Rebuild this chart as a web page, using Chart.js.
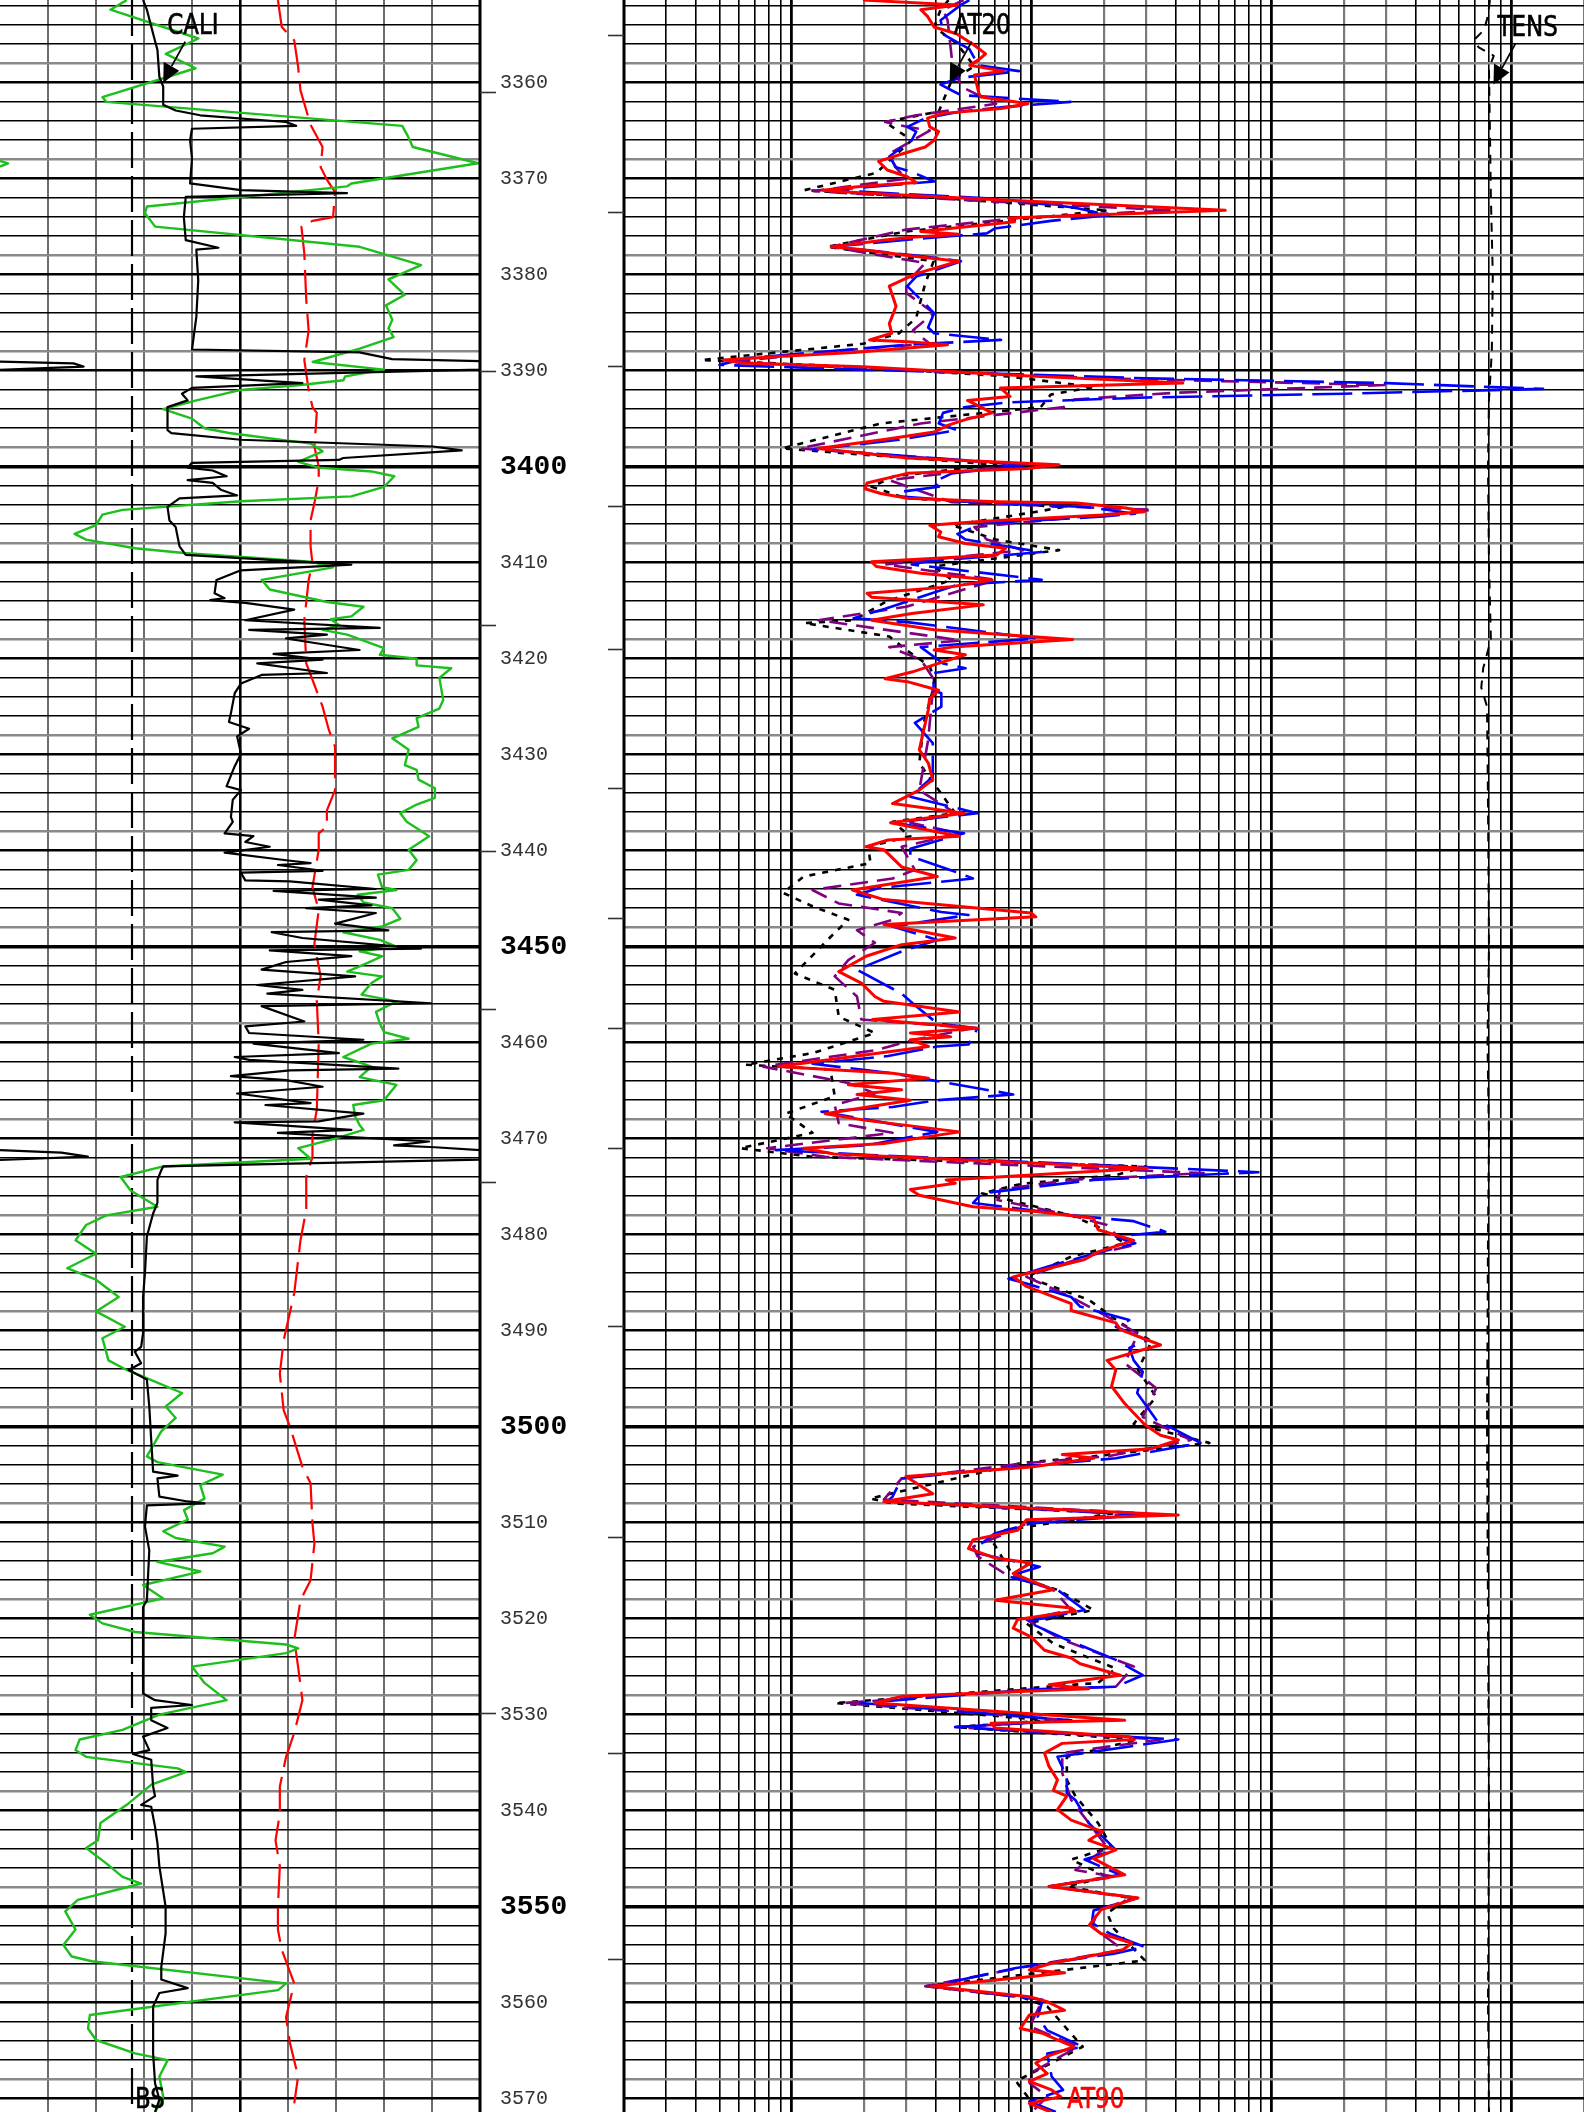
<!DOCTYPE html>
<html><head><meta charset="utf-8">
<script src="https://cdn.jsdelivr.net/npm/chart.js@4/dist/chart.umd.min.js"></script>
<style>
html,body{margin:0;padding:0;background:#fff;}
#wrap{position:relative;width:1584px;height:2112px;overflow:hidden;background:#fff;}
#right{position:absolute;left:624px;top:0;}
#left{position:absolute;left:0;top:0;}
</style></head><body>
<div id="wrap"><canvas id="right" width="960" height="2112"></canvas><canvas id="left" width="626" height="2112"></canvas></div>
<script>
// ---------------- axis ranges & tick lists ----------------
const DEPTH_TOP = 3351.39, DEPTH_BOTTOM = 3571.4;
const depthLabels = [3360,3370,3380,3390,3400,3410,3420,3430,3440,3450,3460,3470,3480,3490,3500,3510,3520,3530,3540,3550,3560,3570];
const depthGridTicks = []; for (let d = 3352; d <= 3570; d += 2) depthGridTicks.push(d);
const leftGridDivs = [1,2,3,4,5,6,7,8,9];
const resGridTicks = []; [0.1,1,10,100,1000].forEach(dec => { for (let m = 1; m <= 9; m++) { const v = +(dec*m).toPrecision(3); if (v >= 0.2 && v <= 2000) resGridTicks.push(v); } });
const leftTimeTicks = [3361.0,3390.0,3416.5,3440.0,3456.5,3474.5,3529.8];
const rightTimeTicks = [3355.0,3373.5,3389.5,3404.1,3419.0,3433.5,3447.0,3458.5,3471.0,3489.5,3511.5,3534.0,3555.5];
const BS_VALUE = 8.75;

// ---------------- curves: [depth m, value] ----------------
const GR = [[3351.4,39.6],[3352.4,34.5],[3355.4,62.0],[3357.0,51.8],[3358.5,61.1],[3361.5,32.0],[3362.0,33.2],[3364.5,125.7],[3365.6,127.5],[3366.7,129.0],[3368.4,149.4],[3370.5,109.8],[3370.8,108.5],[3372.9,45.9],[3373.6,45.3],[3375.0,48.5],[3377.1,112.4],[3379.0,131.6],[3380.5,121.4],[3382.1,126.5],[3383.2,120.6],[3384.7,122.6],[3385.6,121.4],[3386.5,123.0],[3387.7,112.4],[3389.1,97.7],[3389.9,120.0],[3390.6,107.9],[3391.0,107.3],[3391.5,93.9],[3392.0,75.3],[3393.1,61.4],[3394.0,51.0],[3395.0,60.0],[3396.0,63.9],[3396.5,71.6],[3397.6,97.1],[3398.4,100.8],[3399.5,93.2],[3400.1,99.6],[3400.5,116.1],[3401.0,123.2],[3402.1,120.0],[3403.1,109.8],[3403.6,75.3],[3404.5,38.3],[3405.0,32.0],[3406.1,30.0],[3407.0,23.3],[3407.6,26.9],[3408.5,42.2],[3409.0,57.5],[3409.9,97.1],[3410.5,104.1],[3411.8,81.8],[3412.8,84.3],[3414.1,102.2],[3414.6,113.6],[3415.6,109.8],[3415.9,103.4],[3416.5,105.9],[3417.0,100.8],[3417.5,108.5],[3418.9,120.0],[3419.6,118.7],[3420.0,130.2],[3420.7,130.2],[3421.0,141.0],[3422.0,137.3],[3424.3,138.5],[3425.2,137.3],[3426.2,130.2],[3427.1,130.8],[3428.3,122.6],[3429.5,127.7],[3431.1,126.5],[3431.6,130.2],[3432.6,130.8],[3433.5,135.9],[3434.5,135.9],[3435.2,130.2],[3436.1,125.1],[3437.0,127.1],[3438.5,134.1],[3439.9,127.7],[3441.0,130.2],[3442.0,127.7],[3442.5,118.1],[3443.8,119.4],[3444.1,123.9],[3444.6,111.8],[3445.4,113.6],[3446.0,122.6],[3447.1,125.1],[3447.9,119.4],[3448.5,107.3],[3449.3,118.7],[3450.0,123.9],[3450.5,112.4],[3451.0,119.4],[3451.7,114.9],[3452.6,108.5],[3453.1,119.4],[3453.8,116.1],[3455.0,113.0],[3455.7,123.9],[3456.8,117.5],[3458.0,118.7],[3458.9,120.0],[3459.6,127.7],[3460.1,116.1],[3461.5,107.3],[3462.5,116.1],[3463.6,112.4],[3464.4,123.9],[3466.0,120.0],[3466.5,110.4],[3467.7,111.0],[3468.6,112.4],[3469.1,113.6],[3470.0,104.7],[3471.0,93.2],[3472.1,97.1],[3472.9,51.0],[3474.0,37.7],[3475.4,40.8],[3477.1,49.2],[3478.0,33.2],[3479.0,26.9],[3480.6,23.6],[3482.0,30.0],[3483.5,21.0],[3484.7,30.0],[3486.5,37.1],[3488.0,30.0],[3489.6,39.0],[3490.8,32.0],[3493.1,33.9],[3494.1,39.6],[3494.8,44.7],[3496.5,56.9],[3497.9,51.8],[3499.1,54.9],[3500.5,50.4],[3503.1,45.9],[3503.7,49.2],[3505.0,69.6],[3506.1,62.6],[3507.5,63.9],[3508.7,57.5],[3509.7,58.7],[3510.9,51.0],[3511.6,54.9],[3512.5,70.2],[3513.2,66.5],[3514.1,49.2],[3515.1,62.6],[3516.5,44.7],[3517.9,51.0],[3519.6,28.1],[3520.5,32.0],[3521.4,42.2],[3522.7,89.4],[3523.1,93.2],[3523.6,89.4],[3525.0,60.0],[3526.7,63.9],[3528.5,70.8],[3530.0,49.8],[3531.6,38.3],[3532.6,24.9],[3533.7,23.6],[3534.4,26.9],[3535.6,55.5],[3536.0,58.1],[3537.3,47.3],[3539.4,39.6],[3541.3,31.4],[3543.1,30.6],[3543.9,26.9],[3545.5,33.2],[3546.9,38.3],[3547.6,44.1],[3549.3,24.3],[3550.5,20.4],[3552.4,23.6],[3554.0,19.8],[3555.2,22.4],[3555.7,28.7],[3558.0,89.4],[3558.7,86.9],[3561.3,28.1],[3562.7,27.5],[3563.9,30.0],[3565.3,42.2],[3566.0,52.4],[3567.7,49.8],[3569.8,51.0],[3571.4,48.5]];
const GR_WRAP = [[3368.15,0],[3368.4,2.5],[3368.75,0]];

const CALI = [[3351.4,8.98],[3352.4,9.06],[3354.9,9.19],[3356.6,9.28],[3359.4,9.32],[3360.4,9.40],[3362.3,9.40],[3362.9,9.66],[3363.4,10.17],[3364.1,11.96],[3364.5,12.17],[3364.8,10.00],[3366.0,9.96],[3367.9,10.00],[3370.5,9.96],[3371.2,11.02],[3371.5,13.23],[3371.9,9.87],[3374.0,9.83],[3376.4,9.87],[3377.2,10.55],[3377.4,10.09],[3380.6,10.13],[3384.4,10.09],[3387.8,10.00],[3388.1,13.49],[3388.8,14.17],[3389.0,16.0],[3389.9,16.0],[3390.6,10.09],[3391.3,12.30],[3391.8,10.00],[3392.4,9.79],[3393.1,9.91],[3393.8,9.49],[3396.2,9.49],[3396.5,9.57],[3397.2,11.02],[3397.9,15.02],[3398.3,15.62],[3399.1,13.15],[3399.3,13.06],[3399.6,10.00],[3400.1,9.91],[3400.4,10.43],[3401.0,10.72],[3401.4,9.91],[3401.7,10.43],[3402.4,10.60],[3403.0,10.94],[3403.3,9.74],[3404.2,9.49],[3405.6,9.53],[3406.3,9.66],[3408.3,9.74],[3409.2,9.87],[3410.2,13.32],[3410.8,11.02],[3411.8,10.51],[3413.2,10.47],[3413.7,10.68],[3413.9,10.38],[3414.2,11.11],[3414.9,12.13],[3416.0,11.11],[3416.8,13.91],[3417.0,11.19],[3417.5,12.81],[3417.9,11.96],[3419.1,13.49],[3419.5,11.70],[3420.1,12.72],[3420.5,11.36],[3421.5,12.81],[3421.7,11.45],[3422.4,11.11],[3422.6,11.02],[3423.6,10.89],[3425.7,10.81],[3426.6,10.77],[3427.3,11.19],[3428.1,10.94],[3429.9,11.02],[3431.2,10.89],[3433.3,10.72],[3433.7,11.02],[3434.7,10.85],[3436.5,10.81],[3437.0,10.85],[3438.2,10.68],[3438.5,11.28],[3439.1,11.11],[3439.6,11.62],[3440.2,10.68],[3441.0,11.96],[3441.3,12.47],[3441.5,11.79],[3442.1,12.72],[3442.3,11.02],[3443.1,11.11],[3443.2,12.04],[3444.0,13.83],[3444.2,11.70],[3444.9,13.83],[3445.1,12.64],[3445.7,13.74],[3446.0,12.38],[3446.5,13.83],[3447.6,12.98],[3448.3,14.09],[3448.5,11.66],[3449.1,12.30],[3450.2,14.77],[3450.4,11.62],[3451.0,13.32],[3451.6,11.96],[3452.4,11.45],[3453.1,13.40],[3454.0,11.36],[3454.5,12.30],[3454.9,11.57],[3455.9,14.98],[3456.2,11.45],[3457.8,12.34],[3458.3,11.11],[3459.0,11.19],[3459.7,13.57],[3460.1,11.28],[3461.1,13.06],[3461.5,10.89],[3461.8,11.19],[3462.7,14.30],[3462.9,12.04],[3463.5,10.81],[3463.9,11.96],[3464.6,12.72],[3465.3,10.94],[3466.3,12.47],[3466.5,11.53],[3467.4,13.57],[3468.2,12.64],[3468.3,10.89],[3469.1,13.32],[3469.4,11.79],[3470.3,14.94],[3470.7,14.21],[3470.9,15.06],[3471.2,16.0],[3472.2,16.0],[3472.9,9.40],[3473.3,9.36],[3474.3,9.28],[3476.7,9.28],[3477.8,9.19],[3480.2,9.06],[3484.0,9.02],[3486.5,8.98],[3490.3,8.98],[3491.7,8.94],[3492.2,8.81],[3493.4,8.94],[3494.1,8.68],[3495.1,9.06],[3497.9,9.11],[3501.4,9.15],[3504.7,9.19],[3505.1,9.70],[3505.4,9.28],[3507.3,9.32],[3507.8,9.91],[3508.0,10.26],[3508.2,9.06],[3510.4,9.02],[3512.9,9.11],[3518.1,9.06],[3518.8,8.98],[3527.8,8.98],[3528.5,9.23],[3529.0,10.00],[3529.3,9.15],[3530.6,9.15],[3531.4,9.49],[3532.3,8.98],[3533.7,9.11],[3534.1,8.77],[3534.7,9.15],[3537.5,9.19],[3538.5,9.23],[3539.4,8.94],[3539.6,9.15],[3541.7,9.23],[3543.4,9.28],[3545.8,9.32],[3550.0,9.45],[3552.8,9.45],[3556.3,9.36],[3557.6,9.36],[3558.5,9.91],[3559.0,9.32],[3560.4,9.19],[3565.3,9.19],[3568.4,9.23],[3570.1,9.32],[3571.4,9.23]];
const CALI_WRAP_A = [[3389.06,6.0],[3389.24,7.53],[3389.58,7.74],[3389.93,6.0]];
const CALI_WRAP_B = [[3471.19,6.0],[3471.46,7.28],[3471.88,7.83],[3472.23,6.0]];

const SP = [[3351.4,-22.1],[3354.2,-21.3],[3355.6,-18.7],[3358.3,-17.9],[3360.8,-17.4],[3364.4,-15.3],[3366.7,-12.8],[3368.8,-13.2],[3370.1,-11.9],[3371.4,-10.2],[3374.0,-10.6],[3374.4,-14.9],[3375.0,-17.2],[3377.8,-16.6],[3382.6,-16.2],[3385.8,-15.7],[3388.9,-16.6],[3392.0,-15.7],[3393.8,-14.9],[3394.4,-14.0],[3397.9,-14.5],[3400.0,-13.6],[3401.4,-13.6],[3403.8,-14.5],[3405.6,-15.3],[3408.3,-15.3],[3410.1,-14.9],[3411.8,-15.7],[3416.0,-16.6],[3420.5,-16.2],[3422.2,-14.9],[3425.0,-12.8],[3427.4,-11.5],[3429.2,-10.2],[3433.7,-10.2],[3435.8,-11.9],[3437.5,-11.9],[3438.2,-13.6],[3439.9,-13.6],[3443.8,-14.9],[3446.2,-13.6],[3449.7,-14.5],[3453.1,-13.2],[3455.6,-14.0],[3460.1,-13.6],[3467.0,-14.0],[3469.5,-14.9],[3471.9,-14.9],[3474.0,-16.2],[3477.4,-16.2],[3480.6,-17.4],[3486.1,-18.7],[3491.0,-20.9],[3494.5,-21.7],[3498.3,-20.9],[3500.0,-19.6],[3504.2,-17.0],[3505.9,-15.3],[3510.1,-14.9],[3512.2,-14.5],[3516.0,-15.3],[3518.1,-17.4],[3522.2,-18.7],[3525.0,-17.9],[3528.5,-17.0],[3531.9,-18.7],[3534.4,-20.4],[3537.5,-21.7],[3540.3,-21.7],[3543.1,-22.6],[3545.8,-21.7],[3550.0,-22.1],[3552.4,-22.1],[3554.5,-21.3],[3558.0,-18.7],[3561.5,-20.4],[3564.2,-19.6],[3567.7,-17.9],[3570.5,-18.7]];

const AT90 = [[3351.4,1.98],[3351.9,4.9],[3352.4,3.45],[3353.1,3.68],[3354.2,3.92],[3354.9,4.86],[3356.1,5.77],[3357.0,6.42],[3357.6,6.02],[3358.2,5.52],[3358.8,7.62],[3359.2,5.77],[3361.1,6.02],[3361.5,6.15],[3362.0,8.47],[3362.2,9.64],[3362.7,7.45],[3363.2,4.27],[3363.7,3.68],[3364.6,3.76],[3365.1,4.09],[3366.0,3.92],[3366.7,3.60],[3367.4,2.90],[3368.2,2.30],[3369.1,2.50],[3369.8,3.03],[3370.4,3.30],[3370.8,1.98],[3371.2,1.34],[3371.5,1.98],[3372.2,7.14],[3373.3,64],[3374.1,8.0],[3374.5,8.47],[3375.5,3.45],[3375.8,4.96],[3376.1,3.16],[3376.4,2.45],[3377.1,1.46],[3377.4,1.98],[3378.1,3.30],[3378.6,4.96],[3379.9,3.30],[3381.2,2.55],[3383.3,2.72],[3385.1,2.55],[3386.1,2.61],[3386.8,2.11],[3387.0,3.03],[3387.3,4.46],[3388.1,1.81],[3388.5,0.91],[3388.9,0.52],[3389.2,0.62],[3389.6,1.98],[3390.5,8.85],[3391.3,42.6],[3391.8,7.4],[3392.7,8.12],[3393.1,5.4],[3394.4,6.84],[3395.1,5.29],[3395.7,4.46],[3396.4,3.92],[3397.1,2.55],[3398.1,1.29],[3399.1,3.03],[3399.8,13.0],[3400.2,9.64],[3400.7,3.03],[3401.7,2.06],[3402.3,2.02],[3402.8,2.35],[3403.3,3.03],[3403.65,7.14],[3403.8,15.4],[3404.3,24.7],[3404.7,29.4],[3405.0,20.8],[3405.7,6.28],[3406.1,3.76],[3406.8,4.18],[3407.3,4.09],[3408.0,5.29],[3408.5,7.78],[3409.2,7.14],[3409.9,2.15],[3410.4,2.25],[3411.1,3.45],[3411.8,6.84],[3412.5,4.65],[3413.2,2.06],[3413.6,2.15],[3414.4,6.28],[3415.3,3.16],[3416.0,2.15],[3417.0,3.92],[3418.0,14.8],[3418.8,4.65],[3419.1,3.92],[3419.6,5.29],[3420.5,4.09],[3421.4,3.16],[3422.1,2.45],[3422.4,3.03],[3423.3,4.09],[3424.2,3.75],[3425.3,3.71],[3427.4,3.55],[3429.5,3.40],[3430.9,3.71],[3432.6,3.87],[3433.7,3.40],[3435.1,2.63],[3436.1,5.22],[3437.1,2.58],[3438.5,5.00],[3438.9,2.52],[3439.6,2.04],[3439.9,2.42],[3441.7,2.87],[3442.7,4.04],[3444.1,1.79],[3445.1,2.42],[3446.5,9.93],[3446.9,10.4],[3447.7,2.42],[3448.3,3.26],[3449.1,4.80],[3449.8,2.87],[3451.0,2.04],[3452.6,1.57],[3453.8,1.95],[3455.2,2.22],[3455.7,2.42],[3456.8,5.00],[3457.6,2.17],[3458.5,5.94],[3459.0,3.12],[3459.4,4.59],[3459.7,3.12],[3460.4,3.71],[3461.4,1.87],[3462.5,0.88],[3463.2,2.63],[3463.7,3.71],[3464.4,1.72],[3464.9,2.87],[3465.4,1.87],[3466.0,3.12],[3467.4,1.38],[3468.1,2.04],[3469.3,5.00],[3470.5,2.42],[3471.0,1.12],[3471.6,1.5],[3473.1,30.3],[3474.3,4.40],[3474.65,4.80],[3475.3,3.12],[3475.9,3.40],[3476.7,4.80],[3477.1,5.69],[3477.6,10.4],[3478.3,18.1],[3479.5,18.9],[3480.6,26.6],[3481.8,18.9],[3482.6,16.6],[3483.3,12.8],[3484.4,8.37],[3485.4,9.51],[3487.2,14.6],[3487.9,14.6],[3489.2,22.4],[3489.9,23.4],[3491.5,34.4],[3492.0,29.0],[3493.1,20.6],[3494.1,22.4],[3495.8,21.5],[3497.6,24.4],[3499.8,29.6],[3500.9,34.4],[3501.4,40.8],[3502.3,31.6],[3502.9,13.4],[3503.3,18.1],[3504.2,9.93],[3505.2,2.99],[3507.0,3.87],[3507.8,2.42],[3509.2,40.8],[3509.7,9.51],[3510.8,8.73],[3511.8,5.69],[3512.7,5.45],[3513.7,7.05],[3514.2,9.93],[3515.3,8.37],[3517.0,12.3],[3518.1,7.05],[3518.9,14.6],[3519.2,15.2],[3520.1,8.73],[3521.0,8.37],[3521.9,9.93],[3523.3,11.3],[3524.1,14.6],[3524.7,15.9],[3525.9,23.4],[3526.9,11.8],[3527.3,17.3],[3528.1,2.87],[3528.8,2.22],[3529.9,9.51],[3530.6,24.4],[3530.9,6.76],[3531.4,7.05],[3532.3,25.5],[3532.6,26.6],[3533.0,13.4],[3534.0,11.3],[3535.4,11.8],[3536.8,12.8],[3537.9,12.3],[3538.5,14.0],[3539.9,12.8],[3541.0,14.6],[3542.2,19.7],[3543.1,17.3],[3544.1,22.4],[3545.0,18.1],[3546.7,24.4],[3547.9,11.8],[3549.1,27.7],[3550.3,19.5],[3551.9,17.4],[3552.8,19.4],[3553.8,26.1],[3554.5,24.0],[3555.9,12.1],[3556.6,9.77],[3556.9,13.7],[3557.3,9.77],[3558.3,3.80],[3559.4,9.77],[3559.9,11.6],[3560.8,13.7],[3561.3,9.77],[3562.7,8.96],[3563.2,11.1],[3564.2,13.7],[3564.6,15.0],[3565.6,11.6],[3566.3,10.4],[3567.4,11.6],[3568.2,9.77],[3569.1,12.1],[3569.8,13.2],[3570.5,9.77],[3571.4,12.0]];

const AT60 = [[3351.4,5.5],[3351.9,5.07],[3353.5,4.17],[3355.0,4.3],[3356.5,5.5],[3358.2,6.0],[3358.8,8.85],[3359.5,5.0],[3360.2,4.17],[3361.3,5.07],[3362.0,14.5],[3362.5,8.0],[3363.0,5.07],[3363.7,3.6],[3364.6,3.03],[3365.1,3.3],[3366.0,3.16],[3367.7,2.55],[3368.8,2.72],[3369.4,3.23],[3370.3,3.92],[3371.2,1.46],[3372.1,7.14],[3373.0,15],[3373.8,21],[3374.4,12],[3375.2,7],[3375.7,6.5],[3376.2,3.6],[3377.1,1.46],[3378.0,3.3],[3378.6,5.07],[3379.5,4.0],[3380.2,3.3],[3381.2,3.03],[3382.6,3.45],[3384.0,3.92],[3385.5,3.7],[3386.1,3.92],[3386.8,7.45],[3387.3,3.03],[3387.8,1.74],[3388.7,0.65],[3389.4,0.50],[3389.9,1.98],[3390.8,30],[3391.3,300],[3391.9,1350],[3392.4,200],[3392.8,30],[3393.3,8],[3393.8,5.3],[3394.4,4.27],[3395.5,4.1],[3396.2,4.9],[3397.2,2.8],[3398.2,1.23],[3399.8,9.6],[3400.7,4.65],[3401.6,3.9],[3402.1,4.1],[3402.6,2.9],[3403.1,2.8],[3403.7,5.8],[3404.2,16.8],[3404.9,27.0],[3405.2,19.9],[3405.9,6.3],[3407.0,4.9],[3407.6,5.3],[3408.9,11.0],[3409.9,3.6],[3410.2,3.16],[3411.5,8.85],[3411.8,11.0],[3412.3,4.9],[3414.8,2.45],[3415.8,1.81],[3416.2,3.03],[3417.9,10.5],[3418.8,3.45],[3419.5,3.76],[3420.5,4.27],[3421.0,5.3],[3421.5,3.9],[3423.3,3.9],[3423.6,4.2],[3425.0,4.2],[3426.7,3.26],[3428.8,3.87],[3432.3,3.87],[3434.4,3.12],[3436.1,5.94],[3437.1,2.63],[3438.2,5.22],[3439.8,3.12],[3440.6,3.12],[3442.2,4.8],[3442.9,5.69],[3443.9,2.31],[3444.6,1.87],[3446.4,4.2],[3446.7,5.45],[3447.9,2.63],[3449.3,4.04],[3450.5,2.87],[3452.4,1.87],[3454.9,2.87],[3456.1,3.26],[3458.0,4.04],[3458.5,5.94],[3460.2,5.45],[3460.4,4.04],[3461.4,2.52],[3462.2,1.22],[3463.2,2.63],[3465.4,8.37],[3466.0,4.04],[3466.7,2.63],[3467.2,1.33],[3469.3,4.04],[3470.7,2.04],[3471.2,0.86],[3471.7,2.12],[3473.5,88],[3474.3,18.1],[3475.7,6.2],[3476.7,5.7],[3478.0,14.6],[3478.6,26.6],[3479.7,36],[3480.2,22.4],[3480.9,27],[3482.0,18.1],[3483.3,11.8],[3484.6,8.0],[3485.1,9.5],[3486.5,14.6],[3487.5,15.9],[3488.9,25.5],[3489.6,22.4],[3491.0,30.3],[3491.8,25.5],[3493.1,26.6],[3494.3,29],[3496.5,27.5],[3499.3,33],[3501.7,50.5],[3503.3,22.4],[3504.2,8.7],[3505.4,2.87],[3507.3,2.63],[3507.8,2.5],[3509.2,29],[3510.1,9.9],[3511.1,7.05],[3512.5,5.94],[3513.2,5.94],[3514.6,10.8],[3515.6,8.0],[3517.0,12.8],[3519.1,16.6],[3520.3,9.5],[3522.2,14.0],[3524.3,22.4],[3525.9,29],[3527.1,22.4],[3527.4,9.9],[3528.8,1.95],[3530.6,14.6],[3531.3,4.8],[3532.6,40.8],[3534.4,12.8],[3536.5,14.0],[3538.2,14.0],[3538.9,15.2],[3541.3,17.3],[3544.1,22.4],[3545.1,16.6],[3546.7,23.4],[3547.9,11.8],[3549.1,27.7],[3550.4,18.1],[3551.7,17.8],[3552.8,21.1],[3554.2,29.6],[3554.9,22.0],[3556.4,8.6],[3558.3,3.8],[3559.7,11.1],[3561.5,10.6],[3562.9,11.6],[3564.6,16.3],[3565.3,11.6],[3567.7,12.1],[3569.1,13.5],[3570.3,9.77],[3571.4,12.6]];

const AT20 = [[3351.4,5.2],[3352.4,4.27],[3353.5,4.46],[3357.6,4.65],[3360.4,5.07],[3362.2,7.1],[3363.4,3.3],[3364.1,2.45],[3364.6,3.03],[3365.0,3.76],[3367.4,2.55],[3368.8,2.7],[3370.0,3.0],[3371.3,1.23],[3372.2,5.0],[3373.3,38],[3374.1,8.8],[3375.3,3.0],[3377.1,1.46],[3378.8,3.6],[3380.9,3.0],[3381.9,3.0],[3384.0,3.9],[3385.8,3.2],[3387.2,3.76],[3387.7,1.98],[3389.1,0.55],[3389.7,1.8],[3390.8,20],[3391.5,295],[3392.3,40],[3393.0,15],[3393.8,13.6],[3395.5,3.45],[3398.1,1.08],[3399.8,8.85],[3401.4,2.55],[3403.7,4.65],[3404.5,32],[3406.3,5.77],[3407.6,6.5],[3408.7,9.2],[3410.2,2.45],[3411.8,7.1],[3414.6,3.0],[3416.0,1.29],[3418.1,5.07],[3418.8,2.55],[3420.1,3.45],[3422.2,3.92],[3423.3,3.87],[3428.5,3.7],[3433.7,3.4],[3436.1,4.8],[3437.1,3.12],[3438.2,5.0],[3439.6,2.87],[3442.0,3.26],[3442.9,2.63],[3444.1,1.22],[3445.5,1.57],[3446.5,2.87],[3447.2,2.63],[3448.3,1.87],[3449.6,2.22],[3451.4,1.72],[3453.1,1.51],[3455.2,1.87],[3457.6,1.95],[3458.0,3.26],[3458.5,5.69],[3459.7,3.26],[3460.8,2.22],[3462.5,0.76],[3464.2,1.72],[3465.3,2.22],[3466.5,1.51],[3468.4,1.57],[3469.4,2.63],[3471.0,0.79],[3471.9,1.38],[3473.6,52],[3474.3,14.6],[3475.3,7.4],[3476.4,7.2],[3478.0,14.6],[3479.0,20.6],[3480.0,22.4],[3481.1,26.6],[3482.3,16.6],[3484.4,9.5],[3486.5,14.6],[3487.5,17.3],[3490.3,27.7],[3493.4,24.4],[3496.0,33],[3499.0,29],[3501.4,46],[3503.1,20.6],[3503.8,9.5],[3505.4,2.87],[3507.6,2.42],[3509.0,27.7],[3510.1,9.5],[3510.8,8.4],[3512.5,5.7],[3513.5,5.94],[3515.3,7.7],[3517.0,12.3],[3519.1,14.6],[3520.1,9.5],[3522.2,13.4],[3525.0,26.6],[3527.1,22.4],[3527.4,9.5],[3528.8,1.64],[3530.6,14.6],[3531.3,4.8],[3532.6,34.4],[3534.0,13.4],[3536.1,13.4],[3538.9,14.6],[3541.3,17.3],[3543.8,20.6],[3546.2,15.2],[3546.9,22.4],[3547.9,11.8],[3549.1,26.6],[3550.4,18.9],[3552.1,17.8],[3554.5,24],[3556.3,9.3],[3558.3,3.6],[3559.7,11.1],[3562.5,9.8],[3564.6,15.6],[3567.4,9.8],[3568.4,9.8],[3569.8,11.6],[3571.2,10.2]];

const AT10 = [[3351.4,4.5],[3352.4,4.17],[3354.2,3.92],[3355.9,4.86],[3358.3,5.77],[3359.7,4.65],[3363.0,4.1],[3364.1,2.45],[3366.0,3.16],[3369.4,2.25],[3371.2,1.13],[3372.1,4.65],[3373.3,20.8],[3374.5,7.1],[3375.5,3.0],[3377.1,1.4],[3378.6,3.9],[3380.9,3.6],[3384.5,3.3],[3386.1,2.8],[3387.2,1.98],[3388.9,0.42],[3389.6,1.8],[3390.6,8],[3391.7,18],[3392.5,12],[3393.8,10.9],[3395.5,2.35],[3398.1,0.91],[3399.8,7.1],[3401.0,2.67],[3402.1,2.15],[3403.3,3.0],[3404.2,13.6],[3404.7,10.5],[3406.1,4.65],[3407.6,7.1],[3408.7,13],[3410.4,3.92],[3411.8,4.65],[3414.0,2.5],[3416.0,1.81],[3416.3,1.13],[3417.7,2.55],[3419.1,3.0],[3420.8,3.76],[3422.2,3.92],[3423.3,3.87],[3426.7,3.55],[3430.9,3.4],[3436.1,4.8],[3437.0,2.63],[3438.5,3.12],[3439.6,2.08],[3441.3,2.13],[3442.7,1.12],[3444.4,0.92],[3445.8,1.22],[3447.2,1.72],[3449.0,1.45],[3452.8,1.03],[3454.5,1.51],[3457.3,1.57],[3459.0,2.22],[3461.1,1.22],[3462.3,0.64],[3462.8,1.45],[3465.6,1.51],[3467.4,0.94],[3469.4,1.22],[3471.0,0.61],[3471.9,1.22],[3472.9,30],[3473.8,22.4],[3474.7,9.1],[3475.7,6.2],[3478.0,14.6],[3479.2,18.9],[3480.9,24.4],[3482.3,14.6],[3484.4,9.5],[3486.8,17.3],[3489.2,23.4],[3491.1,31.6],[3494.1,27.7],[3496.9,33],[3499.7,26.6],[3501.7,55],[3503.1,18.1],[3503.8,9.0],[3507.5,2.12],[3508.0,2.63],[3509.0,22.4],[3510.8,7.7],[3511.8,6.8],[3515.6,8.4],[3517.0,12.8],[3519.1,18.1],[3520.5,9.5],[3522.6,12.3],[3525.2,22.4],[3526.7,18.9],[3528.8,1.51],[3530.6,11.8],[3531.3,4.8],[3532.6,27.7],[3534.4,14],[3536.8,14],[3538.5,15.2],[3541.3,18.9],[3543.8,21.5],[3545.1,14.6],[3546.9,20.6],[3547.9,14],[3549.1,25.5],[3550.7,20.6],[3552.3,22],[3555.6,29.6],[3556.6,13.7],[3558.3,3.6],[3559.4,8.96],[3560.4,11.6],[3564.6,16.3],[3568.2,8.6],[3570.1,9.8],[3571.4,10]];

const TENS = [[3351.4,9020],[3353.0,9000],[3354.5,8960],[3355.5,8860],[3356.3,8900],[3357.2,9060],[3358.5,9010],[3365,9020],[3372,9030],[3380,9050],[3388,9040],[3393,9010],[3400,9000],[3410,9010],[3418,9030],[3421,8950],[3423,8930],[3425,8990],[3435,9000],[3450,9010],[3460,8995],[3470,9010],[3480,9000],[3500,8990],[3520,9000],[3540,9010],[3560,9000],[3571.4,9010]];

// ---------------- helpers ----------------
const LABEL_FONT = '500 29px "Liberation Sans Narrow", "DejaVu Sans Condensed", "Arial Narrow", sans-serif';
const LABEL_REF_TEXT = 'AT20', LABEL_REF_WIDTH = 57;
const MONO = '"Liberation Mono", "DejaVu Sans Mono", monospace';
const toPts = arr => arr.map(([d, v]) => ({x: v, y: d}));
function curve(label, arr, xAxisID, color, width, dash, order) {
  return {label, data: toPts(arr), xAxisID, yAxisID: 'depth', showLine: true, borderColor: color, backgroundColor: color,
    borderWidth: width, borderDash: dash || [], pointRadius: 0, pointHoverRadius: 0, fill: false, tension: 0, order,
    borderJoinStyle: 'round'};
}
const depthGridColor = c => (c.tick && c.tick.value % 10 === 8) ? '#8a8a8a' : '#000';
const depthGridWidth = c => { const v = c.tick ? c.tick.value : 0; return v % 50 === 0 ? 3.6 : v % 10 === 0 ? 2.6 : v % 10 === 8 ? 2.4 : 1.6; };
const setTicks = list => a => { a.ticks = list.map(v => ({value: v})); };
const zeroH = a => { a.height = 0; a.paddingLeft = 0; a.paddingRight = 0; };
function seg(ctx, x1, y1, x2, y2) { ctx.beginPath(); ctx.moveTo(x1, y1); ctx.lineTo(x2, y2); ctx.stroke(); }
function label(ctx, text, x, y, color) {
  ctx.font = LABEL_FONT; ctx.textAlign = 'left'; ctx.textBaseline = 'alphabetic'; ctx.fillStyle = color;
  const sx = Math.min(1, LABEL_REF_WIDTH / ctx.measureText(LABEL_REF_TEXT).width);
  ctx.save(); ctx.translate(x, y); ctx.scale(sx, 1);
  ctx.fillText(text, 0, 0);
  ctx.strokeStyle = color; ctx.lineWidth = 0.6; ctx.strokeText(text, 0, 0);
  ctx.restore();
}
function pointer(ctx, tx, ty, text, color) {
  ctx.fillStyle = color; ctx.strokeStyle = color;
  ctx.beginPath(); ctx.moveTo(tx, ty); ctx.lineTo(tx + 0.5, ty - 21); ctx.lineTo(tx + 16, ty - 12); ctx.closePath(); ctx.fill();
  ctx.lineWidth = 1.8; seg(ctx, tx + 8.5, ty - 16.5, tx + 22, ty - 41);
  label(ctx, text, tx + 4, ty - 49, color);
}
const baseOpts = {responsive: false, animation: false, devicePixelRatio: 1, events: [],
  layout: {padding: 0}, plugins: {legend: {display: false}, tooltip: {enabled: false}}};

// ---------------- left track + depth track ----------------
const leftFrame = {
  id: 'leftFrame',
  afterDraw(chart) {
    const ctx = chart.ctx, ys = chart.scales.depth, xr = chart.chartArea.right;
    ctx.save();
    ctx.strokeStyle = '#000'; ctx.lineWidth = 3;
    seg(ctx, xr, 0, xr, chart.height);
    seg(ctx, xr + 144, 0, xr + 144, chart.height);
    ctx.strokeStyle = '#333'; ctx.lineWidth = 1.6;
    leftTimeTicks.forEach(d => { const y = Math.round(ys.getPixelForValue(d)) + 0.5; seg(ctx, xr, y, xr + 16, y); });
    rightTimeTicks.forEach(d => { const y = Math.round(ys.getPixelForValue(d)) + 0.5; seg(ctx, xr + 128, y, xr + 144, y); });
    const cx = chart.scales.cali;
    pointer(ctx, cx.getPixelForValue(9.4), ys.getPixelForValue(3360.0), 'CALI', '#000');
    label(ctx, 'BS', cx.getPixelForValue(BS_VALUE) + 3, chart.chartArea.bottom - 4, '#000');
    ctx.restore();
  }
};

new Chart(document.getElementById('left'), {
  type: 'scatter',
  data: {datasets: [
    curve('CALI', CALI, 'cali', '#000', 2.2, [], 0),
    curve('CALI wrap', CALI_WRAP_A, 'cali', '#000', 2.2, [], 0),
    curve('CALI wrap', CALI_WRAP_B, 'cali', '#000', 2.2, [], 0),
    curve('GR', GR, 'gr', '#1cbf1c', 2.4, [], 1),
    curve('GR wrap', GR_WRAP, 'gr', '#1cbf1c', 2.4, [], 1),
    curve('SP', SP, 'sp', '#ff0000', 2.2, [34, 10], 2),
    curve('BS', [[DEPTH_TOP, BS_VALUE], [DEPTH_BOTTOM, BS_VALUE]], 'cali', '#000', 2.2, [36, 8], 3)
  ]},
  options: Object.assign({}, baseOpts, {
    scales: {
      grid: {type: 'linear', position: 'top', min: 0, max: 10, bounds: 'data', afterBuildTicks: setTicks(leftGridDivs), afterFit: zeroH,
        ticks: {display: false}, border: {display: false},
        grid: {drawTicks: false, color: c => c.tick.value === 5 ? '#000' : '#6e6e6e', lineWidth: c => c.tick.value === 5 ? 2.6 : 2}},
      gr: {type: 'linear', min: 0, max: 150, display: false},
      cali: {type: 'linear', min: 6, max: 16, display: false},
      sp: {type: 'linear', min: -80, max: 20, display: false},
      depth: {type: 'linear', position: 'right', reverse: true, min: DEPTH_TOP, max: DEPTH_BOTTOM, bounds: 'data',
        afterBuildTicks: setTicks(depthGridTicks),
        afterFit: a => { a.width = 146; a.paddingTop = 0; a.paddingBottom = 0; },
        border: {display: false},
        grid: {drawTicks: false, color: depthGridColor, lineWidth: depthGridWidth},
        ticks: {autoSkip: false, padding: 20, color: c => c.tick && c.tick.value % 50 === 0 ? '#000' : '#333',
          font: c => (c.tick && c.tick.value % 50 === 0) ? {family: MONO, size: 28, weight: 'bold'} : {family: MONO, size: 20, weight: 'normal'},
          callback: v => depthLabels.includes(v) ? String(v) : ''}}
    }
  }),
  plugins: [leftFrame]
});

// ---------------- resistivity track ----------------
const rightFrame = {
  id: 'rightFrame',
  afterDatasetsDraw(chart) {
    const ctx = chart.ctx, ys = chart.scales.depth, rs = chart.scales.res, ts = chart.scales.tens;
    ctx.save();
    pointer(ctx, rs.getPixelForValue(4.55), ys.getPixelForValue(3360.0), 'AT20', '#000');
    pointer(ctx, ts.getPixelForValue(9057), ys.getPixelForValue(3360.2), 'TENS', '#000');
    label(ctx, 'AT90', rs.getPixelForValue(14.06), chart.chartArea.bottom - 4, '#ff0000');
    ctx.restore();
  }
};
const mant = v => Math.round(v / Math.pow(10, Math.floor(Math.log10(v) + 1e-9)));
const isGrayRes = v => v >= 1 && (mant(v) === 2 || mant(v) === 3);

new Chart(document.getElementById('right'), {
  type: 'scatter',
  data: {datasets: [
    curve('AT90', AT90, 'res', '#ff0000', 3, [], 0),
    curve('AT60', AT60, 'res', '#0000ff', 2.6, [40, 10], 1),
    curve('AT20', AT20, 'res', '#800080', 2.6, [18, 9], 2),
    curve('AT10', AT10, 'res', '#000', 2.6, [6, 7], 3),
    curve('TENS', TENS, 'tens', '#000', 2, [9, 8], 4)
  ]},
  options: Object.assign({}, baseOpts, {
    scales: {
      res: {type: 'logarithmic', position: 'top', min: 0.2, max: 2000, bounds: 'data', afterBuildTicks: setTicks(resGridTicks), afterFit: zeroH,
        ticks: {display: false}, border: {display: false},
        grid: {drawTicks: false,
          color: c => isGrayRes(c.tick.value) ? '#7a7a7a' : '#000',
          lineWidth: c => mant(c.tick.value) === 1 ? 2.8 : isGrayRes(c.tick.value) ? 2.2 : 1.6}},
      tens: {type: 'linear', min: 0, max: 10000, display: false},
      depth: {type: 'linear', position: 'left', reverse: true, min: DEPTH_TOP, max: DEPTH_BOTTOM, bounds: 'data',
        afterBuildTicks: setTicks(depthGridTicks),
        afterFit: a => { a.width = 0; a.paddingTop = 0; a.paddingBottom = 0; },
        ticks: {display: false}, border: {display: false},
        grid: {drawTicks: false, color: depthGridColor, lineWidth: depthGridWidth}}
    }
  }),
  plugins: [rightFrame]
});
</script></body></html>
